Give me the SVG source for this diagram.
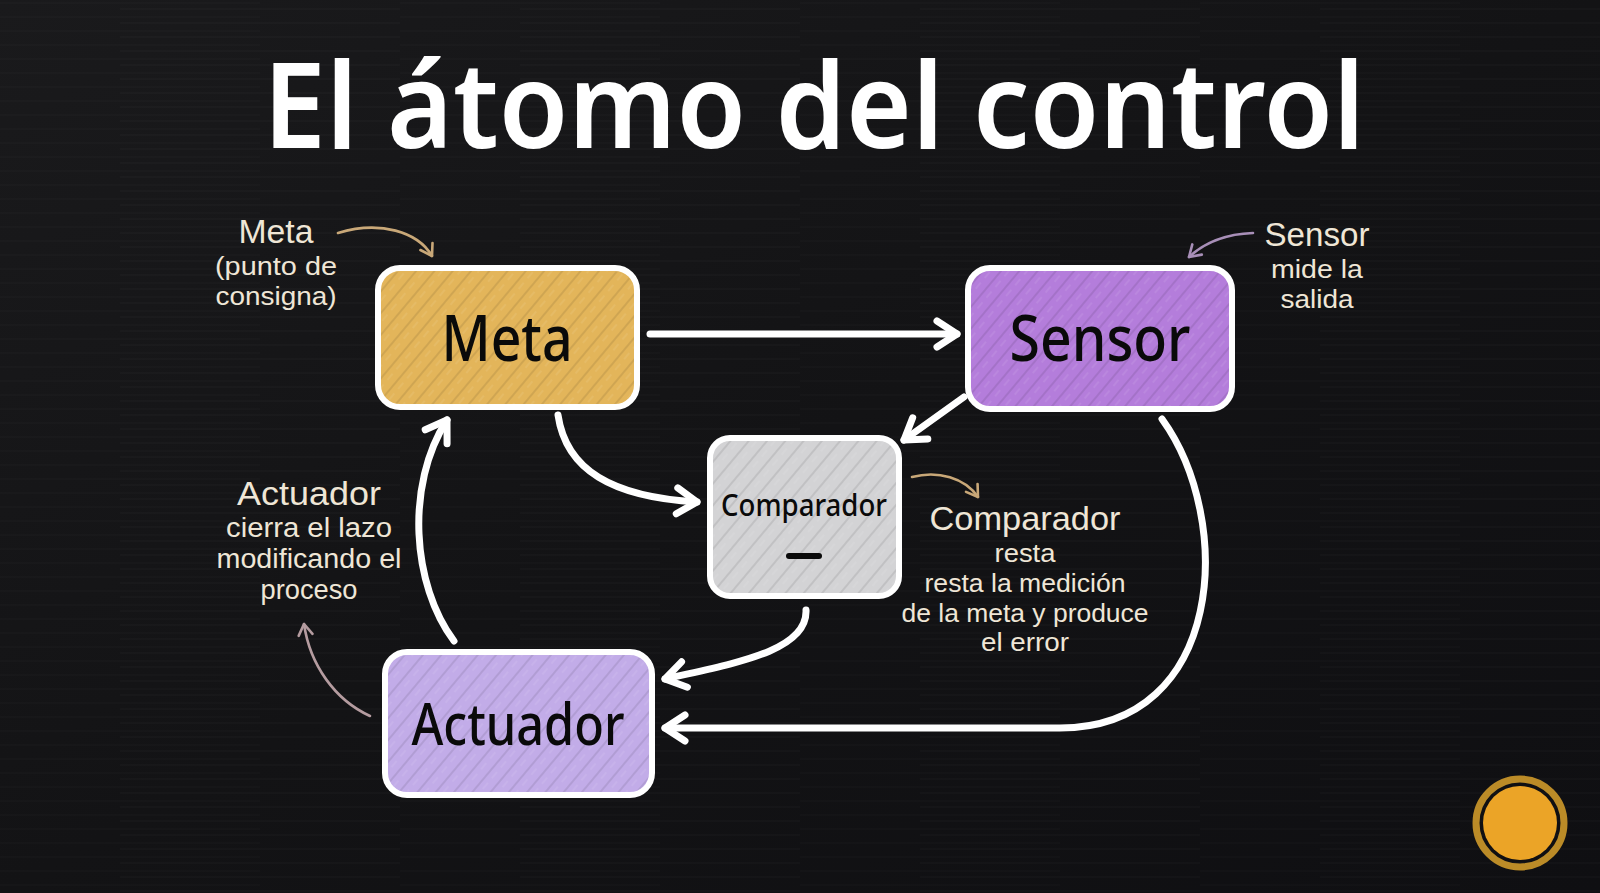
<svg xmlns="http://www.w3.org/2000/svg" width="1600" height="893" viewBox="0 0 1600 893">
<defs>
  <linearGradient id="bg" x1="0" y1="0" x2="1" y2="1">
    <stop offset="0" stop-color="#1a1a1c"/>
    <stop offset="0.5" stop-color="#131315"/>
    <stop offset="1" stop-color="#0f0f12"/>
  </linearGradient>
  <pattern id="streaks" width="400" height="14" patternUnits="userSpaceOnUse">
    <line x1="0" y1="3" x2="260" y2="3" stroke="#ffffff" stroke-opacity="0.025" stroke-width="1"/>
    <line x1="120" y1="9" x2="400" y2="9" stroke="#ffffff" stroke-opacity="0.03" stroke-width="1"/>
  </pattern>
  <pattern id="hatch" width="14" height="14" patternUnits="userSpaceOnUse" patternTransform="rotate(-50)">
    <line x1="0" y1="3" x2="14" y2="3" stroke="#000" stroke-opacity="0.12" stroke-width="1.4"/>
    <line x1="0" y1="9" x2="8" y2="9" stroke="#fff" stroke-opacity="0.12" stroke-width="1.2"/>
  </pattern>
  <marker id="ah" markerUnits="userSpaceOnUse" markerWidth="34" markerHeight="34" viewBox="0 0 34 34" refX="26" refY="17" orient="auto">
    <path d="M6,4 L26,17 L6,30" fill="none" stroke="#ffffff" stroke-width="7" stroke-linecap="round" stroke-linejoin="round"/>
  </marker>
  <marker id="ahTan" markerUnits="userSpaceOnUse" markerWidth="20" markerHeight="20" viewBox="0 0 20 20" refX="15" refY="10" orient="auto">
    <path d="M4,3 L15,10 L4,17" fill="none" stroke="#c9a878" stroke-width="2.6" stroke-linecap="round" stroke-linejoin="round"/>
  </marker>
  <marker id="ahPur" markerUnits="userSpaceOnUse" markerWidth="20" markerHeight="20" viewBox="0 0 20 20" refX="15" refY="10" orient="auto">
    <path d="M4,3 L15,10 L4,17" fill="none" stroke="#a88fb8" stroke-width="2.6" stroke-linecap="round" stroke-linejoin="round"/>
  </marker>
  <marker id="ahPink" markerUnits="userSpaceOnUse" markerWidth="20" markerHeight="20" viewBox="0 0 20 20" refX="15" refY="10" orient="auto">
    <path d="M4,3 L15,10 L4,17" fill="none" stroke="#b59ca0" stroke-width="2.6" stroke-linecap="round" stroke-linejoin="round"/>
  </marker>
</defs>
<style>
  .title { font-family: "Noto Sans", "DejaVu Sans", sans-serif; font-size: 120px; font-weight: 600; fill: #ffffff; }
  .box { stroke: #ffffff; stroke-width: 6; }
  .hatch { fill: url(#hatch); }
  .nlabel { font-family: "Noto Sans", "DejaVu Sans", sans-serif; fill: #0a0a0a; font-weight: 500; text-anchor: middle; }
  .ann { font-family: "Liberation Sans", Arial, sans-serif; fill: #efe6d6; text-anchor: middle; }
  .edge { fill: none; stroke: #ffffff; stroke-width: 7; stroke-linecap: round; marker-end: url(#ah); }
  .thin { fill: none; stroke-width: 2.6; stroke-linecap: round; }
</style>

<rect x="0" y="0" width="1600" height="893" fill="url(#bg)"/>
<rect x="0" y="0" width="1600" height="893" fill="url(#streaks)"/>

<text class="title" x="263" y="148" textLength="1102" lengthAdjust="spacingAndGlyphs">El átomo del control</text>

<g id="connectors">
  <path class="edge" d="M650,334 L957,334"/>
  <path class="edge" d="M964,397 L904,440"/>
  <path class="edge" d="M558,415 C566,470 612,497 697,502"/>
  <path class="edge" d="M806,610 C808,652 730,664 665,679"/>
  <path class="edge" d="M1162,419 C1235,520 1225,728 1060,728 L665,728"/>
  <path class="edge" d="M454,641 C412,585 405,485 447,420"/>
</g>

<g id="node-meta">
  <rect class="box" x="378" y="268" width="259" height="139" rx="22" fill="#e3b55a"/>
  <rect class="hatch" x="381" y="271" width="253" height="133" rx="20"/>
  <text class="nlabel" x="507" y="361" font-size="64" textLength="131" lengthAdjust="spacingAndGlyphs">Meta</text>
</g>

<g id="node-sensor">
  <rect class="box" x="968" y="268" width="264" height="141" rx="22" fill="#b47ddb"/>
  <rect class="hatch" x="971" y="271" width="258" height="135" rx="20"/>
  <text class="nlabel" x="1100" y="361" font-size="64" textLength="181" lengthAdjust="spacingAndGlyphs">Sensor</text>
</g>

<g id="node-comparador">
  <rect class="box" x="710" y="438" width="189" height="158" rx="20" fill="#d3d3d5"/>
  <rect class="hatch" x="713" y="441" width="183" height="152" rx="18"/>
  <text class="nlabel" x="804" y="516" font-size="30" textLength="166" lengthAdjust="spacingAndGlyphs">Comparador</text>
  <line x1="789" y1="556" x2="819" y2="556" stroke="#0a0a0a" stroke-width="6" stroke-linecap="round"/>
</g>

<g id="node-actuador">
  <rect class="box" x="385" y="652" width="267" height="143" rx="22" fill="#c2ace8"/>
  <rect class="hatch" x="388" y="655" width="261" height="137" rx="20"/>
  <text class="nlabel" x="518" y="745" font-size="58" textLength="213" lengthAdjust="spacingAndGlyphs">Actuador</text>
</g>

<g id="ann-meta">
  <text class="ann" x="276" y="243" font-size="34" textLength="75" lengthAdjust="spacingAndGlyphs">Meta</text>
  <text class="ann" x="276" y="275" font-size="26" textLength="122" lengthAdjust="spacingAndGlyphs">(punto de</text>
  <text class="ann" x="276" y="305" font-size="26" textLength="121" lengthAdjust="spacingAndGlyphs">consigna)</text>
  <path class="thin" stroke="#c9a878" d="M338,233 C380,220 418,232 432,256" marker-end="url(#ahTan)"/>
</g>

<g id="ann-sensor">
  <text class="ann" x="1317" y="246" font-size="34" textLength="105" lengthAdjust="spacingAndGlyphs">Sensor</text>
  <text class="ann" x="1317" y="278" font-size="26" textLength="92" lengthAdjust="spacingAndGlyphs">mide la</text>
  <text class="ann" x="1317" y="308" font-size="26" textLength="73" lengthAdjust="spacingAndGlyphs">salida</text>
  <path class="thin" stroke="#a88fb8" d="M1253,233 C1225,234 1203,244 1189,257" marker-end="url(#ahPur)"/>
</g>

<g id="ann-comparador">
  <text class="ann" x="1025" y="530" font-size="34" textLength="191" lengthAdjust="spacingAndGlyphs">Comparador</text>
  <text class="ann" x="1025" y="562" font-size="26" textLength="61" lengthAdjust="spacingAndGlyphs">resta</text>
  <text class="ann" x="1025" y="592" font-size="26" textLength="201" lengthAdjust="spacingAndGlyphs">resta la medición</text>
  <text class="ann" x="1025" y="622" font-size="26" textLength="247" lengthAdjust="spacingAndGlyphs">de la meta y produce</text>
  <text class="ann" x="1025" y="651" font-size="26" textLength="88" lengthAdjust="spacingAndGlyphs">el error</text>
  <path class="thin" stroke="#c9a878" d="M912,477 C938,470 965,478 978,497" marker-end="url(#ahTan)"/>
</g>

<g id="ann-actuador">
  <text class="ann" x="309" y="505" font-size="34" textLength="144" lengthAdjust="spacingAndGlyphs">Actuador</text>
  <text class="ann" x="309" y="537" font-size="27" textLength="166" lengthAdjust="spacingAndGlyphs">cierra el lazo</text>
  <text class="ann" x="309" y="568" font-size="27" textLength="185" lengthAdjust="spacingAndGlyphs">modificando el</text>
  <text class="ann" x="309" y="599" font-size="27" textLength="97" lengthAdjust="spacingAndGlyphs">proceso</text>
  <path class="thin" stroke="#b59ca0" d="M370,716 C335,700 310,665 304,624" marker-end="url(#ahPink)"/>
</g>

<g id="badge">
  <circle cx="1520" cy="823" r="44" fill="none" stroke="#d9a12c" stroke-width="7" stroke-opacity="0.85"/>
  <circle cx="1520" cy="823" r="37" fill="#eba427"/>
</g>
</svg>
